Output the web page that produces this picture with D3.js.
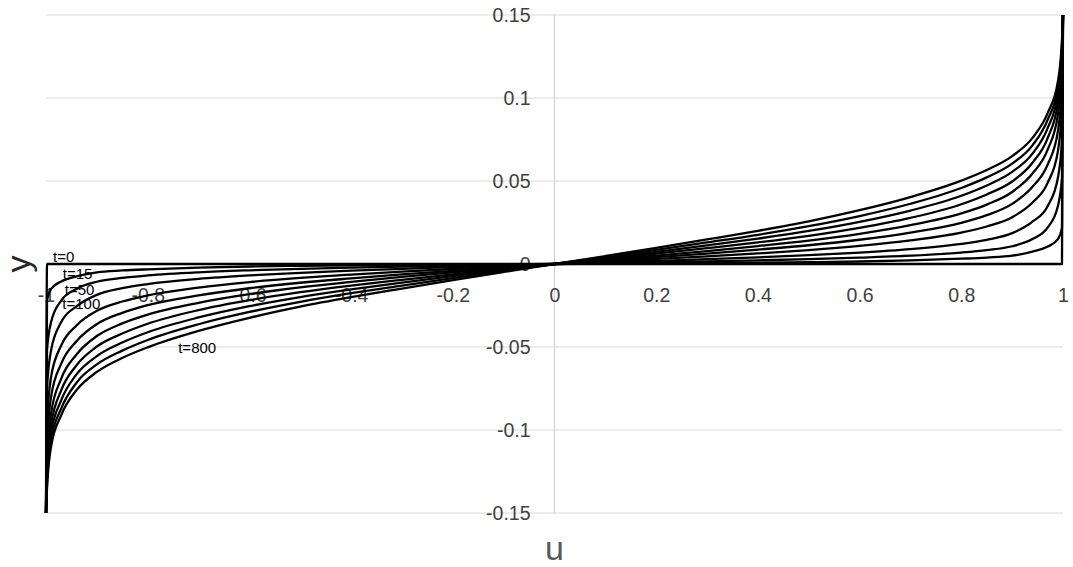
<!DOCTYPE html>
<html>
<head>
<meta charset="utf-8"/>
<title>y(u) curves</title>
<script src="https://cdn.jsdelivr.net/npm/d3@7/dist/d3.min.js"></script>
<style>
  body { margin: 0; background: #fff; }
  svg text { font-family: "Liberation Sans", Arial, sans-serif; }
</style>
</head>
<body>
<svg id="chart" width="1073" height="567"></svg>
<script>
// u positions shared by every curve
var uVals = [-1, -0.998, -0.99, -0.97, -0.94, -0.9, -0.85, -0.8, -0.7, -0.6, -0.5, -0.4, -0.3, -0.2, -0.1,
             0, 0.1, 0.2, 0.3, 0.4, 0.5, 0.6, 0.7, 0.8, 0.85, 0.9, 0.94, 0.97, 0.99, 0.998, 1];

// one array of y per time step
var t0   = [-0.15, 0, 0, 0, 0, 0, 0, 0, 0, 0, 0, 0, 0, 0, 0,
            0, 0, 0, 0, 0, 0, 0, 0, 0, 0, 0, 0, 0, 0, 0, 0.15];
var t15  = [-0.15, -0.022, -0.015, -0.0105, -0.0075, -0.0050, -0.0039, -0.0032, -0.0022, -0.0015, -0.0011, -0.0008, -0.0006, -0.0004, -0.0002,
            0, 0.0002, 0.0004, 0.0006, 0.0008, 0.0011, 0.0015, 0.0022, 0.0032, 0.0039, 0.0050, 0.0075, 0.0105, 0.015, 0.022, 0.15];
var t50  = [-0.15, -0.052, -0.035, -0.022, -0.0150, -0.0107, -0.0084, -0.0069, -0.0050, -0.0038, -0.0029, -0.0022, -0.0016, -0.0011, -0.0005,
            0, 0.0005, 0.0011, 0.0016, 0.0022, 0.0029, 0.0038, 0.0050, 0.0069, 0.0084, 0.0107, 0.0150, 0.022, 0.035, 0.052, 0.15];
var t100 = [-0.15, -0.075, -0.052, -0.035, -0.0255, -0.0186, -0.0146, -0.0121, -0.0090, -0.0069, -0.0053, -0.0040, -0.0029, -0.0019, -0.0009,
            0, 0.0009, 0.0019, 0.0029, 0.0040, 0.0053, 0.0069, 0.0090, 0.0121, 0.0146, 0.0186, 0.0255, 0.035, 0.052, 0.075, 0.15];
var t200 = [-0.15, -0.095, -0.068, -0.049, -0.0370, -0.0282, -0.0226, -0.0189, -0.0142, -0.0109, -0.0084, -0.0064, -0.0046, -0.0030, -0.0015,
            0, 0.0015, 0.0030, 0.0046, 0.0064, 0.0084, 0.0109, 0.0142, 0.0189, 0.0226, 0.0282, 0.0370, 0.049, 0.068, 0.095, 0.15];
var t300 = [-0.15, -0.108, -0.080, -0.060, -0.0465, -0.0362, -0.0294, -0.0248, -0.0189, -0.0146, -0.0113, -0.0087, -0.0063, -0.0041, -0.0021,
            0, 0.0021, 0.0041, 0.0063, 0.0087, 0.0113, 0.0146, 0.0189, 0.0248, 0.0294, 0.0362, 0.0465, 0.060, 0.080, 0.108, 0.15];
var t400 = [-0.15, -0.117, -0.090, -0.069, -0.0545, -0.0434, -0.0358, -0.0305, -0.0234, -0.0182, -0.0141, -0.0108, -0.0078, -0.0051, -0.0026,
            0, 0.0026, 0.0051, 0.0078, 0.0108, 0.0141, 0.0182, 0.0234, 0.0305, 0.0358, 0.0434, 0.0545, 0.069, 0.090, 0.117, 0.15];
var t500 = [-0.15, -0.123, -0.097, -0.076, -0.0610, -0.0497, -0.0419, -0.0360, -0.0278, -0.0218, -0.0170, -0.0130, -0.0095, -0.0062, -0.0031,
            0, 0.0031, 0.0062, 0.0095, 0.0130, 0.0170, 0.0218, 0.0278, 0.0360, 0.0419, 0.0497, 0.0610, 0.076, 0.097, 0.123, 0.15];
var t600 = [-0.15, -0.128, -0.102, -0.082, -0.0665, -0.0555, -0.0473, -0.0411, -0.0322, -0.0254, -0.0199, -0.0153, -0.0112, -0.0073, -0.0036,
            0, 0.0036, 0.0073, 0.0112, 0.0153, 0.0199, 0.0254, 0.0322, 0.0411, 0.0473, 0.0555, 0.0665, 0.082, 0.102, 0.128, 0.15];
var t700 = [-0.15, -0.132, -0.106, -0.087, -0.0715, -0.0605, -0.0522, -0.0458, -0.0363, -0.0289, -0.0228, -0.0176, -0.0130, -0.0085, -0.0042,
            0, 0.0042, 0.0085, 0.0130, 0.0176, 0.0228, 0.0289, 0.0363, 0.0458, 0.0522, 0.0605, 0.0715, 0.087, 0.106, 0.132, 0.15];
var t800 = [-0.15, -0.135, -0.110, -0.091, -0.0760, -0.0650, -0.0566, -0.0502, -0.0403, -0.0324, -0.0257, -0.0200, -0.0148, -0.0097, -0.0048,
            0, 0.0048, 0.0097, 0.0148, 0.0200, 0.0257, 0.0324, 0.0403, 0.0502, 0.0566, 0.0650, 0.0760, 0.091, 0.110, 0.135, 0.15];

var series = [t0, t15, t50, t100, t200, t300, t400, t500, t600, t700, t800];

var xTicks = [-1, -0.8, -0.6, -0.4, -0.2, 0, 0.2, 0.4, 0.6, 0.8, 1];
var xTickLabels = ["-1", "-0.8", "-0.6", "-0.4", "-0.2", "0", "0.2", "0.4", "0.6", "0.8", "1"];
var yTicks = [-0.15, -0.1, -0.05, 0, 0.05, 0.1, 0.15];
var yTickLabels = ["-0.15", "-0.1", "-0.05", "0", "0.05", "0.1", "0.15"];

// curve labels on the left: text and the u/y point they start at
var curveLabels = ["t=0", "t=15", "t=50", "t=100", "t=800"];
var labelU = [-0.986, -0.967, -0.963, -0.968, -0.74];
var labelY = [0.0042, -0.006, -0.0157, -0.024, -0.0506];

var svg = d3.select("#chart");

var x = d3.scaleLinear().domain([-1, 1]).range([46, 1063]);
var y = d3.scaleLinear().domain([-0.15, 0.15]).range([513, 15]);

// horizontal gridlines
svg.append("g")
    .selectAll("line")
    .data(yTicks)
  .enter().append("line")
    .attr("x1", x(-1))
    .attr("x2", x(1))
    .attr("y1", function(d) { return y(d); })
    .attr("y2", function(d) { return y(d); })
    .attr("stroke", "#d9d9d9")
    .attr("stroke-width", 1.2);

// vertical axis line through u = 0
svg.append("line")
    .attr("x1", x(0)).attr("x2", x(0))
    .attr("y1", y(0.15)).attr("y2", y(-0.15))
    .attr("stroke", "#d0d0d0")
    .attr("stroke-width", 1.2);

// y tick labels
var yAxis = svg.append("g")
    .attr("transform", "translate(" + x(0) + ",0)")
    .call(d3.axisLeft(y).tickValues(yTicks).tickSize(0).tickPadding(24)
        .tickFormat(function(d, i) { return yTickLabels[i]; }));
yAxis.select(".domain").remove();
yAxis.selectAll("text")
    .attr("fill", "#404040")
    .style("font-size", "19.5px");

// x tick labels
var xAxis = svg.append("g")
    .attr("transform", "translate(0," + y(0) + ")")
    .call(d3.axisBottom(x).tickValues(xTicks).tickSize(0).tickPadding(24)
        .tickFormat(function(d, i) { return xTickLabels[i]; }));
xAxis.select(".domain").remove();
xAxis.selectAll("text")
    .attr("fill", "#404040")
    .style("font-size", "19.5px");

// curves
var line = d3.line()
    .x(function(d, i) { return x(uVals[i]); })
    .y(function(d) { return y(d); })
    .curve(d3.curveMonotoneX);

svg.append("g")
    .selectAll("path")
    .data(series)
  .enter().append("path")
    .attr("fill", "none")
    .attr("stroke", "#000")
    .attr("stroke-width", 2.3)
    .attr("stroke-linejoin", "round")
    .attr("d", line);

// curve labels
svg.append("g")
    .selectAll("text")
    .data(curveLabels)
  .enter().append("text")
    .attr("x", function(d, i) { return x(labelU[i]); })
    .attr("y", function(d, i) { return y(labelY[i]); })
    .attr("dy", "0.35em")
    .style("font-size", "15px")
    .attr("fill", "#000")
    .text(function(d) { return d; });

// axis titles
svg.append("text")
    .attr("x", x(0))
    .attr("y", 548)
    .attr("dy", "0.35em")
    .attr("text-anchor", "middle")
    .attr("fill", "#595959")
    .style("font-size", "34px")
    .text("u");

svg.append("text")
    .attr("transform", "translate(18," + y(0) + ") rotate(-90)")
    .attr("dy", "0.35em")
    .attr("text-anchor", "middle")
    .attr("fill", "#262626")
    .style("font-size", "34px")
    .text("y");
</script>
</body>
</html>
